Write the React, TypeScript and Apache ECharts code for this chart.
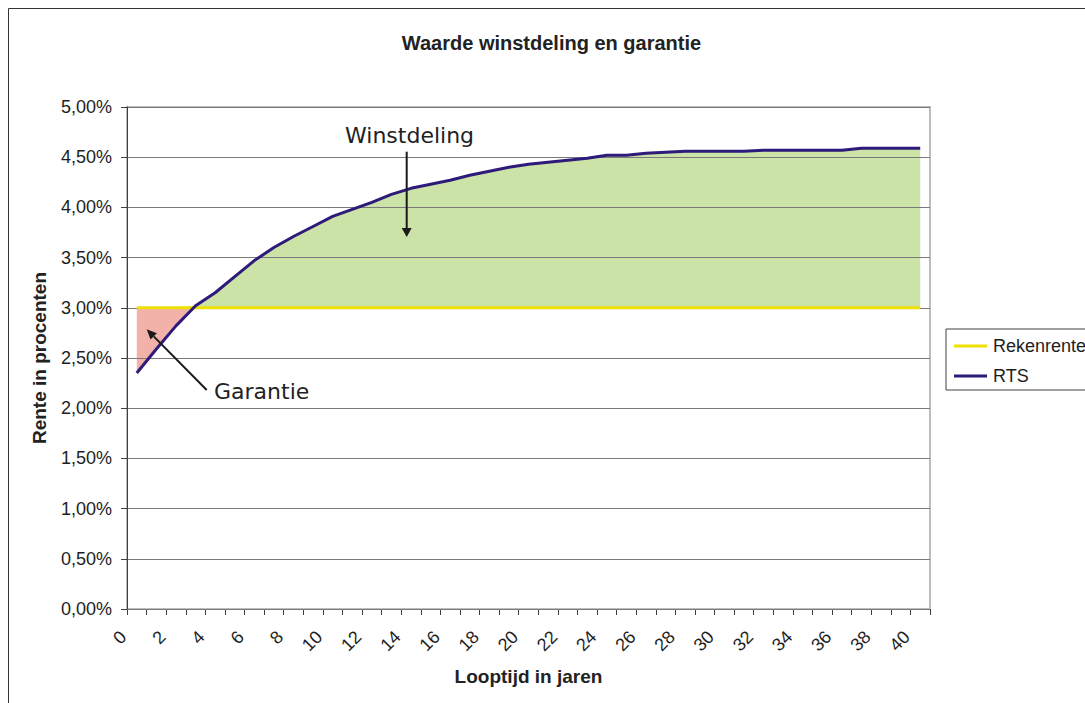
import React, { useEffect, useRef } from 'react';
import * as echarts from 'echarts';

const YEARS = ['0','1','2','3','4','5','6','7','8','9','10','11','12','13','14','15','16','17','18','19','20','21','22','23','24','25','26','27','28','29','30','31','32','33','34','35','36','37','38','39','40'];

const REKENRENTE = [3.0,3.0,3.0,3.0,3.0,3.0,3.0,3.0,3.0,3.0,3.0,3.0,3.0,3.0,3.0,3.0,3.0,3.0,3.0,3.0,3.0,3.0,3.0,3.0,3.0,3.0,3.0,3.0,3.0,3.0,3.0,3.0,3.0,3.0,3.0,3.0,3.0,3.0,3.0,3.0,3.0];

const RTS = [2.35,2.59,2.82,3.02,3.15,3.31,3.47,3.6,3.71,3.81,3.91,3.98,4.05,4.13,4.19,4.23,4.27,4.32,4.36,4.4,4.43,4.45,4.47,4.49,4.52,4.52,4.54,4.55,4.56,4.56,4.56,4.56,4.57,4.57,4.57,4.57,4.57,4.59,4.59,4.59,4.59];

const TITLE = 'Waarde winstdeling en garantie';
const X_NAME = 'Looptijd in jaren';
const Y_NAME = 'Rente in procenten';

const SANS = '"Liberation Sans", Arial, sans-serif';
const ANNOT = '"DejaVu Sans", Verdana, sans-serif';

export default function App() {
  const ref = useRef<HTMLDivElement>(null);
  useEffect(() => {
    const chart = echarts.init(ref.current!, null, { renderer: 'svg' });
    const garantie = RTS.map((v, i) => Math.min(v, REKENRENTE[i]));
    const winst = RTS.map((v, i) => Math.max(v, REKENRENTE[i]));
    chart.setOption({
      animation: false,
      backgroundColor: '#ffffff',
      textStyle: { fontFamily: SANS },
      grid: {
        left: 127, right: 155, top: 107, bottom: 94,
        show: true, borderColor: '#bdbdbd', borderWidth: 2, backgroundColor: 'transparent',
      },
      legend: {
        data: ['Rekenrente', 'RTS'],
        orient: 'vertical', left: 946, top: 329,
        padding: [8, 24, 5, 8], itemGap: 12, itemWidth: 33, itemHeight: 3,
        icon: 'rect',
        borderColor: '#404040', borderWidth: 1, backgroundColor: '#ffffff',
        textStyle: { fontSize: 18, color: '#1e1e1e', fontFamily: SANS, padding: [0, 0, 0, 1] },
      },
      xAxis: {
        type: 'category', data: YEARS, boundaryGap: true,
        axisLine: { lineStyle: { color: '#404040', width: 1 } },
        axisTick: { show: true, interval: 0, length: 6, lineStyle: { color: '#404040' } },
        axisLabel: {
          interval: 1, rotate: 45, margin: 11.5, padding: [0, 19, 0, 0],
          fontSize: 18, color: '#1e1e1e', fontFamily: SANS,
        },
        splitLine: { show: false },
        name: X_NAME, nameLocation: 'middle', nameGap: 58,
        nameTextStyle: { fontSize: 19, fontWeight: 'bold', color: '#222', fontFamily: SANS },
      },
      yAxis: {
        type: 'value', min: 0, max: 5, interval: 0.5, z: 3,
        axisLine: { show: true, lineStyle: { color: '#404040', width: 1 } },
        axisTick: { show: true, length: 6, lineStyle: { color: '#404040' } },
        axisLabel: {
          margin: 15, fontSize: 18, color: '#1e1e1e', fontFamily: SANS,
          formatter: (v: number) => v.toFixed(2).replace('.', ',') + '%',
        },
        splitLine: { show: true, lineStyle: { color: '#7a7a7a', width: 1 } },
        name: Y_NAME, nameLocation: 'middle', nameGap: 78,
        nameTextStyle: { fontSize: 19, fontWeight: 'bold', color: '#222', fontFamily: SANS },
      },
      series: [
        {
          name: 'Garantie', type: 'line', data: garantie, symbol: 'none', z: -1,
          lineStyle: { width: 0, opacity: 0 },
          areaStyle: { color: '#F2B2AA', opacity: 1, origin: 3 },
          silent: true,
        },
        {
          name: 'Winstdeling', type: 'line', data: winst, symbol: 'none', z: -1,
          lineStyle: { width: 0, opacity: 0 },
          areaStyle: { color: '#CBE3A6', opacity: 1, origin: 3 },
          silent: true,
        },
        {
          name: 'Rekenrente', type: 'line', data: REKENRENTE, symbol: 'none', z: 5,
          lineStyle: { color: '#EEE000', width: 3 }, itemStyle: { color: '#EEE000' },
        },
        {
          name: 'RTS', type: 'line', data: RTS, symbol: 'none', z: 6,
          lineStyle: { color: '#2E1A7A', width: 3 }, itemStyle: { color: '#2E1A7A' },
        },
      ],
      graphic: {
        z: 100,
        elements: [
          {
            type: 'rect', silent: true, z: 100,
            shape: { x: 8.5, y: 8.5, width: 1100, height: 720 },
            style: { fill: 'none', stroke: '#333333', lineWidth: 1 },
          },
          {
            type: 'text', x: 551.5, y: 43, z: 100,
            style: {
              text: TITLE, fontSize: 20, fontWeight: 'bold', fontFamily: SANS, fill: '#222',
              align: 'center', verticalAlign: 'middle', textAlign: 'center', textVerticalAlign: 'middle',
            },
          },
          {
            type: 'text', x: 345, y: 135.5, z: 100,
            style: {
              text: 'Winstdeling', fontSize: 22, fontFamily: ANNOT, fill: '#222',
              align: 'left', verticalAlign: 'middle', textAlign: 'left', textVerticalAlign: 'middle',
            },
          },
          {
            type: 'line', silent: true, z: 100,
            shape: { x1: 406.7, y1: 151.7, x2: 406.7, y2: 229 },
            style: { stroke: '#1a1a1a', lineWidth: 2 },
          },
          {
            type: 'polygon', silent: true, z: 100,
            shape: { points: [[401.7, 228], [411.7, 228], [406.7, 237]] },
            style: { fill: '#1a1a1a' },
          },
          {
            type: 'text', x: 214, y: 391, z: 100,
            style: {
              text: 'Garantie', fontSize: 22, fontFamily: ANNOT, fill: '#222',
              align: 'left', verticalAlign: 'middle', textAlign: 'left', textVerticalAlign: 'middle',
            },
          },
          {
            type: 'line', silent: true, z: 100,
            shape: { x1: 206.7, y1: 390, x2: 153.7, y2: 336.4 },
            style: { stroke: '#1a1a1a', lineWidth: 2 },
          },
          {
            type: 'polygon', silent: true, z: 100,
            shape: { points: [[146.7, 329.3], [156.9, 333.3], [150.5, 339.6]] },
            style: { fill: '#1a1a1a' },
          },
        ],
      },
    });
    return () => chart.dispose();
  }, []);
  return (
    <div
      ref={ref}
      style={{ position: 'absolute', left: 0, top: 0, width: 1085, height: 703, background: '#fff' }}
    />
  );
}
